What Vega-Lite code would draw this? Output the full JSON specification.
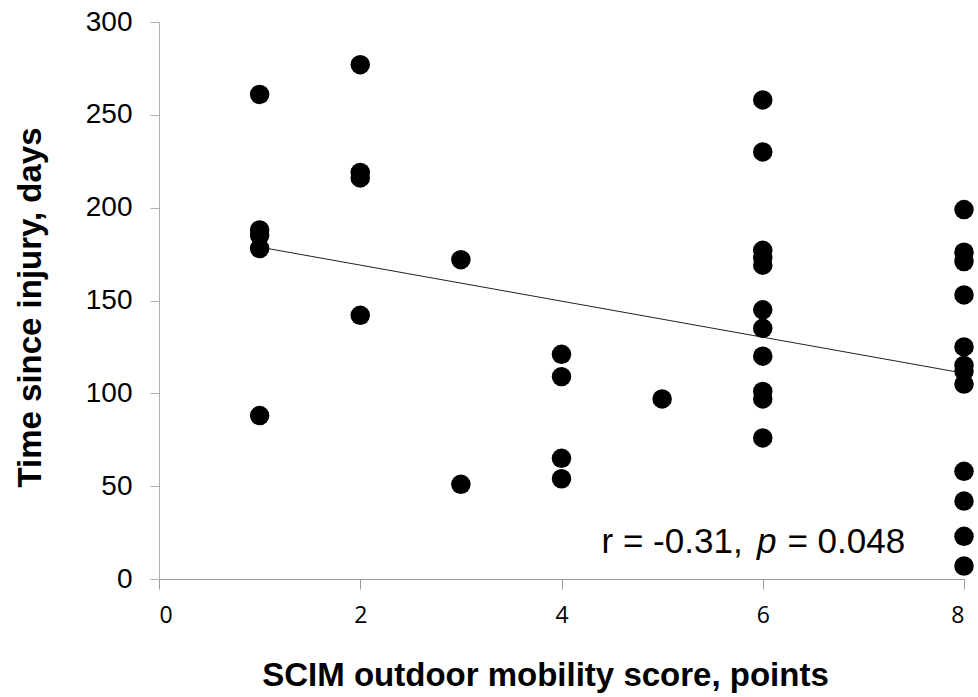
{
  "$schema": "https://vega.github.io/schema/vega-lite/v6.json",
  "width": 805,
  "height": 557,
  "autosize": "none",
  "padding": {"left": 159, "top": 22, "right": 14, "bottom": 118},
  "background": "white",
  "config": {"view": {"stroke": null}},
  "datasets": {
    "points": [
      {"score": 1, "days": 261}, {"score": 1, "days": 188}, {"score": 1, "days": 185}, {"score": 1, "days": 178}, {"score": 1, "days": 88},
      {"score": 2, "days": 277}, {"score": 2, "days": 219}, {"score": 2, "days": 216}, {"score": 2, "days": 142},
      {"score": 3, "days": 172}, {"score": 3, "days": 51},
      {"score": 4, "days": 121}, {"score": 4, "days": 109}, {"score": 4, "days": 65}, {"score": 4, "days": 54},
      {"score": 5, "days": 97},
      {"score": 6, "days": 258}, {"score": 6, "days": 230}, {"score": 6, "days": 177}, {"score": 6, "days": 173}, {"score": 6, "days": 169},
      {"score": 6, "days": 145}, {"score": 6, "days": 135}, {"score": 6, "days": 120}, {"score": 6, "days": 101}, {"score": 6, "days": 97}, {"score": 6, "days": 76},
      {"score": 8, "days": 199}, {"score": 8, "days": 176}, {"score": 8, "days": 171}, {"score": 8, "days": 153}, {"score": 8, "days": 125},
      {"score": 8, "days": 115}, {"score": 8, "days": 112}, {"score": 8, "days": 105}, {"score": 8, "days": 58}, {"score": 8, "days": 42},
      {"score": 8, "days": 23}, {"score": 8, "days": 7}
    ],
    "note": [
      {"part": "r = -0.31,", "score": 5.8, "days": 13.8},
      {"part": "p", "score": 6.04, "days": 13.8},
      {"part": "= 0.048", "score": 6.245, "days": 13.8}
    ]
  },
  "data": {"name": "points"},
  "encoding": {
    "x": {
      "field": "score", "type": "quantitative",
      "scale": {"domain": [0, 8], "nice": false, "zero": false},
      "axis": {
        "title": "SCIM outdoor mobility score, points",
        "values": [0, 2, 4, 6, 8],
        "grid": false,
        "domainColor": "#9a9a9a", "tickColor": "#9a9a9a", "tickSize": 10,
        "labelFont": "Open Sans", "labelFontSize": 23, "labelColor": "#000000", "labelPadding": 15,
        "titleFont": "Liberation Sans", "titleFontSize": 33, "titleFontWeight": "bold", "titleColor": "#000000", "titlePadding": 32,
        "titleX": 386
      }
    },
    "y": {
      "field": "days", "type": "quantitative",
      "scale": {"domain": [0, 300], "nice": false},
      "axis": {
        "title": "Time since injury, days",
        "values": [0, 50, 100, 150, 200, 250, 300],
        "grid": false,
        "domainColor": "#b0b0b0", "tickColor": "#b0b0b0", "tickSize": 9,
        "labelFont": "Liberation Sans", "labelFontSize": 28, "labelColor": "#000000", "labelPadding": 18,
        "titleFont": "Liberation Sans", "titleFontSize": 33, "titleFontWeight": "bold", "titleColor": "#000000", "titlePadding": 38,
        "titleY": 285
      }
    }
  },
  "layer": [
    {
      "mark": {"type": "line", "color": "#222222", "strokeWidth": 1},
      "transform": [{"regression": "days", "on": "score", "extent": [1, 8]}],
      "encoding": {}
    },
    {
      "mark": {"type": "point", "filled": true, "shape": "circle", "size": 380, "color": "#000000", "opacity": 1}
    },
    {
      "data": {"name": "note"},
      "transform": [{"filter": "datum.part == 'r = -0.31,'"}],
      "mark": {"type": "text", "align": "right", "baseline": "alphabetic", "font": "Liberation Sans", "fontSize": 35, "color": "#000000"},
      "encoding": {"text": {"field": "part"}}
    },
    {
      "data": {"name": "note"},
      "transform": [{"filter": "datum.part == 'p'"}],
      "mark": {"type": "text", "align": "center", "baseline": "alphabetic", "font": "Liberation Sans", "fontStyle": "italic", "fontSize": 35, "color": "#000000"},
      "encoding": {"text": {"field": "part"}}
    },
    {
      "data": {"name": "note"},
      "transform": [{"filter": "datum.part == '= 0.048'"}],
      "mark": {"type": "text", "align": "left", "baseline": "alphabetic", "font": "Liberation Sans", "fontSize": 35, "color": "#000000"},
      "encoding": {"text": {"field": "part"}}
    }
  ]
}
